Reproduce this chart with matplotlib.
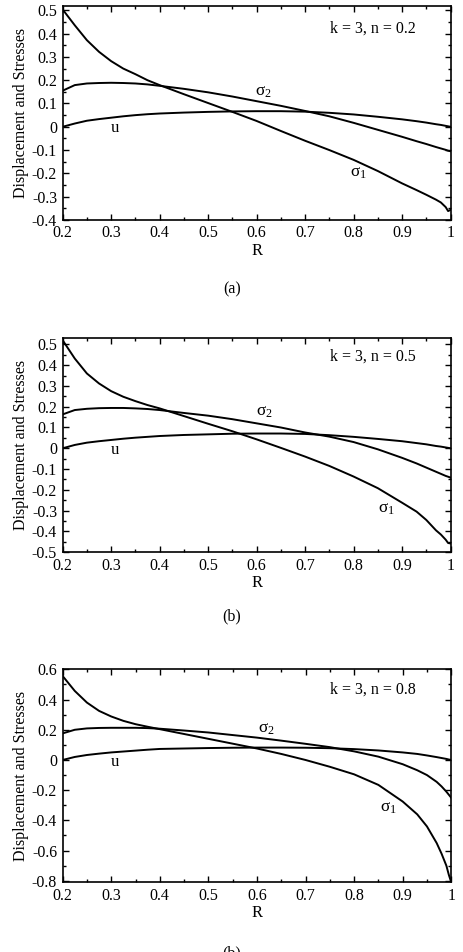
import matplotlib
matplotlib.use('Agg')
import matplotlib.pyplot as plt
from matplotlib.ticker import MultipleLocator, FuncFormatter

plt.rcParams['font.family'] = ['Liberation Serif', 'DejaVu Serif']
plt.rcParams['mathtext.fontset'] = 'stix'

R = [0.2, 0.225, 0.25, 0.275, 0.3, 0.325, 0.35, 0.375, 0.4, 0.45, 0.5, 0.55, 0.6,
     0.65, 0.7, 0.75, 0.8, 0.85, 0.9, 0.93, 0.95, 0.97, 0.98, 0.99, 0.995, 1.0]

# panel (a): k = 3, n = 0.2
s1_a = [0.504, 0.436, 0.372, 0.322, 0.282, 0.250, 0.226, 0.200, 0.179, 0.140, 0.102,
        0.064, 0.025, -0.018, -0.060, -0.100, -0.142, -0.190, -0.243, -0.272, -0.292,
        -0.313, -0.325, -0.345, -0.362, -0.357]
s2_a = [0.155, 0.179, 0.186, 0.188, 0.189, 0.188, 0.186, 0.182, 0.176, 0.163, 0.148,
        0.130, 0.110, 0.090, 0.068, 0.045, 0.017, -0.013, -0.043, -0.062, -0.074,
        -0.087, -0.093, -0.099, -0.103, -0.105]
u_a = [0.0, 0.014, 0.026, 0.033, 0.039, 0.045, 0.050, 0.054, 0.057, 0.061, 0.064,
       0.066, 0.067, 0.067, 0.065, 0.060, 0.053, 0.043, 0.032, 0.024, 0.018, 0.011,
       0.008, 0.004, 0.002, 0.0]

# panel (b): k = 3, n = 0.5
s1_b = [0.520, 0.432, 0.360, 0.312, 0.275, 0.248, 0.227, 0.208, 0.192, 0.155, 0.118,
        0.082, 0.043, 0.002, -0.040, -0.085, -0.136, -0.192, -0.262, -0.305, -0.345,
        -0.395, -0.415, -0.440, -0.456, -0.458]
s2_b = [0.163, 0.184, 0.190, 0.193, 0.194, 0.194, 0.192, 0.189, 0.184, 0.170, 0.157,
        0.140, 0.120, 0.100, 0.076, 0.056, 0.030, -0.005, -0.046, -0.073, -0.093,
        -0.113, -0.123, -0.133, -0.137, -0.141]
u_b = [0.0, 0.016, 0.027, 0.034, 0.040, 0.046, 0.051, 0.055, 0.059, 0.064, 0.067,
       0.070, 0.071, 0.071, 0.069, 0.063, 0.055, 0.045, 0.034, 0.025, 0.019, 0.011,
       0.008, 0.004, 0.002, 0.0]

# panel (c): k = 3, n = 0.8
s1_c = [0.556, 0.457, 0.380, 0.325, 0.288, 0.259, 0.237, 0.220, 0.204, 0.172, 0.140,
        0.108, 0.076, 0.040, 0.0, -0.045, -0.095, -0.165, -0.275, -0.360, -0.440,
        -0.550, -0.620, -0.700, -0.760, -0.810]
s2_c = [0.176, 0.200, 0.209, 0.212, 0.213, 0.213, 0.213, 0.211, 0.207, 0.195, 0.182,
        0.165, 0.148, 0.128, 0.107, 0.085, 0.057, 0.022, -0.028, -0.068, -0.100,
        -0.145, -0.175, -0.210, -0.230, -0.250]
u_c = [0.0, 0.020, 0.033, 0.042, 0.050, 0.056, 0.062, 0.068, 0.073, 0.076, 0.079,
       0.081, 0.082, 0.082, 0.081, 0.078, 0.072, 0.063, 0.050, 0.040, 0.030, 0.019,
       0.013, 0.007, 0.003, 0.0]

panels = [
    dict(s1=s1_a, s2=s2_a, u=u_a, n='0.2', ylim=(-0.4, 0.52), major=0.1, minor=0.05,
         lab_s1=(0.81, -0.20), lab_s2=(0.615, 0.15), lab_u=(0.308, -0.005), note_y=0.42,
         rect=[0.135, 0.769, 0.836, 0.225], cap='(a)', cap_y=0.696),
    dict(s1=s1_b, s2=s2_b, u=u_b, n='0.5', ylim=(-0.5, 0.53), major=0.1, minor=0.05,
         lab_s1=(0.867, -0.29), lab_s2=(0.617, 0.175), lab_u=(0.308, -0.01), note_y=0.443,
         rect=[0.135, 0.420, 0.836, 0.2248], cap='(b)', cap_y=0.353),
    dict(s1=s1_c, s2=s2_c, u=u_c, n='0.8', ylim=(-0.81, 0.6), major=0.2, minor=0.1,
         lab_s1=(0.87, -0.32), lab_s2=(0.62, 0.205), lab_u=(0.308, -0.015), note_y=0.468,
         rect=[0.135, 0.0732, 0.8375, 0.2237], cap='(b)', cap_y=1 - 945 / 952),
]


def fmt(v, pos):
    if abs(v) < 1e-9:
        return '0'
    s = '%.1f' % v
    if s.endswith('.0'):
        s = s[:-2]
    return s


fig = plt.figure(figsize=(4.64, 9.52), dpi=100)

for p in panels:
    ax = fig.add_axes(p['rect'])
    ax.plot(R, p['s1'], color='black', lw=1.4)
    ax.plot(R, p['s2'], color='black', lw=1.4)
    ax.plot(R, p['u'], color='black', lw=1.4)
    ax.set_xlim(0.2, 1.0)
    ax.set_ylim(*p['ylim'])
    ax.xaxis.set_major_locator(MultipleLocator(0.1))
    ax.xaxis.set_minor_locator(MultipleLocator(0.05))
    ax.yaxis.set_major_locator(MultipleLocator(p['major']))
    ax.yaxis.set_minor_locator(MultipleLocator(p['minor']))
    ax.xaxis.set_major_formatter(FuncFormatter(fmt))
    ax.yaxis.set_major_formatter(FuncFormatter(fmt))
    ax.tick_params(which='both', direction='in', top=True, right=True,
                   labelsize=11.5, width=1.0)
    ax.tick_params(which='major', length=4.5, pad=4)
    ax.tick_params(which='minor', length=2.5)
    for sp in ax.spines.values():
        sp.set_linewidth(1.2)
    ax.set_xlabel('R', fontsize=12, labelpad=1)
    ax.set_ylabel('Displacement and Stresses', fontsize=11.5, labelpad=2)

    # upright sigma like the reference
    ax.text(p['lab_s1'][0], p['lab_s1'][1], r'$\mathregular{\sigma_1}$', fontsize=12.5,
            ha='center', va='center')
    ax.text(p['lab_s2'][0], p['lab_s2'][1], r'$\mathregular{\sigma_2}$', fontsize=12.5,
            ha='center', va='center')
    ax.text(p['lab_u'][0], p['lab_u'][1], 'u', fontsize=12, ha='center', va='center')
    ax.text(0.839, p['note_y'], 'k = 3, n = ' + p['n'], fontsize=11.5, ha='center', va='center')

    fig.text(0.5, p['cap_y'], p['cap'], fontsize=11.5, ha='center',
             va='top' if p['cap_y'] < 0.05 else 'center')

fig.savefig('out.png', dpi=100)
